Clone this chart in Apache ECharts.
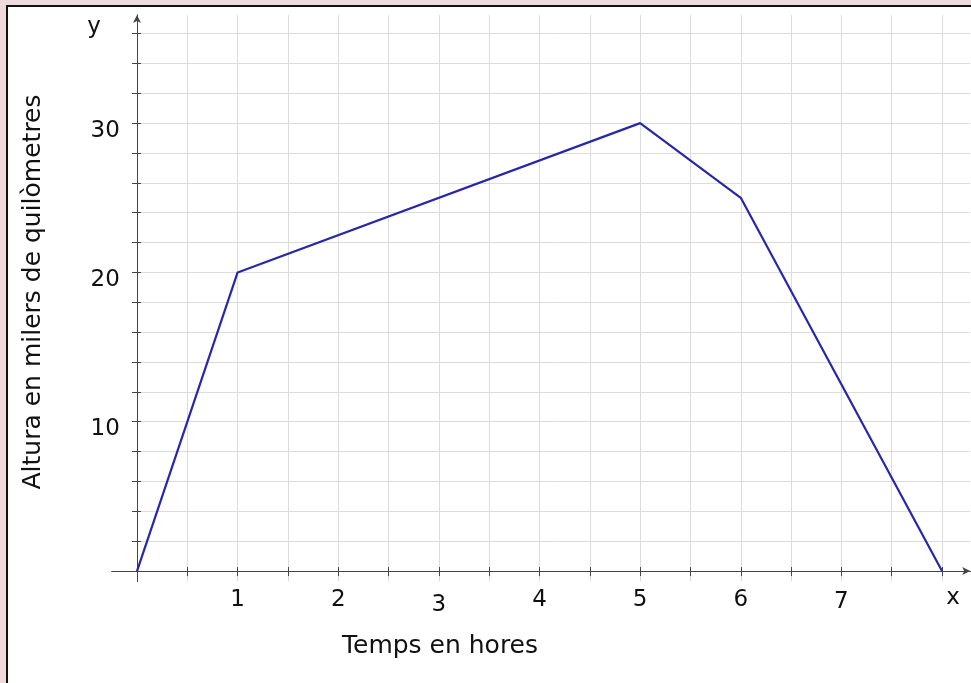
<!DOCTYPE html>
<html>
<head>
<meta charset="utf-8">
<script src="https://cdn.jsdelivr.net/npm/echarts@6/dist/echarts.min.js"></script>
<style>
  html, body { margin: 0; padding: 0; background: #efdbdb; width: 971px; height: 683px; overflow: hidden; }
  #box { position: absolute; left: 6px; top: 5px; width: 1000px; height: 1000px; background: #fff; border: 2px solid #111; }
  #chart { position: absolute; left: 0; top: 0; width: 971px; height: 683px; }
</style>
</head>
<body>
<div id="box"></div>
<div id="chart"></div>
<script>
// Data
const timeHours = [0, 1, 5, 6, 8];
const altitude = [0, 20, 30, 25, 0];
const xTickValues = [0, 0.5, 1, 1.5, 2, 2.5, 3, 3.5, 4, 4.5, 5, 5.5, 6, 6.5, 7, 7.5, 8];
const xLabelValues = [1, 2, 3, 4, 5, 6, 7];
const yTickValues = [0, 2, 4, 6, 8, 10, 12, 14, 16, 18, 20, 22, 24, 26, 28, 30, 32, 34, 36];
const yLabelValues = [10, 20, 30];
const xTitle = 'Temps en hores';
const yTitle = 'Altura en milers de quilòmetres';

const chart = echarts.init(document.getElementById('chart'), null, { renderer: 'canvas' });
const axisColor = '#444';
const gridColor = '#dcdcdc';
const font = 'DejaVu Sans';
const labelFont = 23;
const labelDrop = { 3: 5, 7: 2 };

const option = {
  animation: false,
  backgroundColor: 'transparent',
  grid: [
    { left: 111.84, right: 0.8, top: 15, bottom: 101.5 },
    { left: 137, right: 0.8, top: 15, bottom: 101.5 }
  ],
  xAxis: [{
    type: 'value', min: -0.25, max: 8.28,
    axisLine: { show: true, onZero: true, symbol: ['none', 'arrow'], symbolSize: [6, 8], lineStyle: { color: axisColor, width: 1 } },
    axisTick: { show: true, length: 5, customValues: xTickValues, lineStyle: { color: axisColor } },
    axisLabel: {
      show: true, customValues: xLabelValues, margin: 7, color: '#111', fontFamily: font, fontSize: labelFont,
      formatter: v => labelDrop[v] ? '{d' + labelDrop[v] + '|' + v + '}' : String(v),
      rich: {
        d5: { padding: [5, 0, 0, 0], fontFamily: font, fontSize: labelFont, color: '#111' },
        d2: { padding: [2, 0, 0, 0], fontFamily: font, fontSize: labelFont, color: '#111' }
      }
    },
    splitLine: { show: true, lineStyle: { color: gridColor, width: 1 } },
    z: 3
  }, {
    type: 'value', min: -0.25, max: 8.28, position: 'bottom',
    axisLine: { show: true, onZero: true, lineStyle: { color: axisColor, width: 1 } },
    axisTick: { show: true, inside: true, length: 4, customValues: xTickValues, lineStyle: { color: axisColor } },
    axisLabel: { show: false },
    splitLine: { show: false },
    z: 3
  }, {
    type: 'value', gridIndex: 1, min: 0, max: 8.27,
    axisLine: { show: false }, axisTick: { show: false }, axisLabel: { show: false }, splitLine: { show: false }
  }],
  yAxis: [{
    type: 'value', min: -0.7, max: 37.24,
    axisLine: { show: true, onZero: true, symbol: ['none', 'arrow'], symbolSize: [6, 8], lineStyle: { color: axisColor, width: 1 } },
    axisTick: { show: true, length: 5, customValues: yTickValues, lineStyle: { color: axisColor } },
    axisLabel: {
      show: true, customValues: yLabelValues, margin: -8, color: '#111', fontFamily: font, fontSize: labelFont,
      formatter: v => '{s|' + v + '}',
      rich: { s: { padding: [15, 0, 0, 0], fontFamily: font, fontSize: labelFont, color: '#111' } }
    },
    splitLine: { show: false },
    z: 3
  }, {
    type: 'value', min: -0.7, max: 37.24, position: 'left',
    axisLine: { show: true, onZero: true, lineStyle: { color: axisColor, width: 1 } },
    axisTick: { show: true, inside: true, length: 4, customValues: yTickValues, lineStyle: { color: axisColor } },
    axisLabel: { show: false },
    splitLine: { show: false },
    z: 3
  }, {
    type: 'value', gridIndex: 1, min: -0.7, max: 37.24,
    axisLine: { show: false },
    axisTick: { show: false, customValues: yTickValues },
    axisLabel: { show: false },
    splitLine: { show: true, lineStyle: { color: gridColor, width: 1 } }
  }],
  graphic: [
    { type: 'text', x: 94, y: 27, style: { text: 'y', font: '23px "DejaVu Sans"', fill: '#111', align: 'center', verticalAlign: 'middle' } },
    { type: 'text', x: 953, y: 598, style: { text: 'x', font: '23px "DejaVu Sans"', fill: '#111', align: 'center', verticalAlign: 'middle' } },
    { type: 'text', x: 440, y: 646, style: { text: xTitle, font: '25px "DejaVu Sans"', fill: '#111', align: 'center', verticalAlign: 'middle' } },
    { type: 'text', x: 33, y: 292, rotation: Math.PI / 2, style: { text: yTitle, font: '25px "DejaVu Sans"', fill: '#111', align: 'center', verticalAlign: 'middle' } }
  ],
  series: [{
    type: 'line',
    xAxisIndex: 0, yAxisIndex: 0,
    data: timeHours.map((t, i) => [t, altitude[i]]),
    symbol: 'none',
    lineStyle: { color: '#2727aa', width: 2.2 },
    z: 5
  }]
};
chart.setOption(option);
</script>
</body>
</html>
